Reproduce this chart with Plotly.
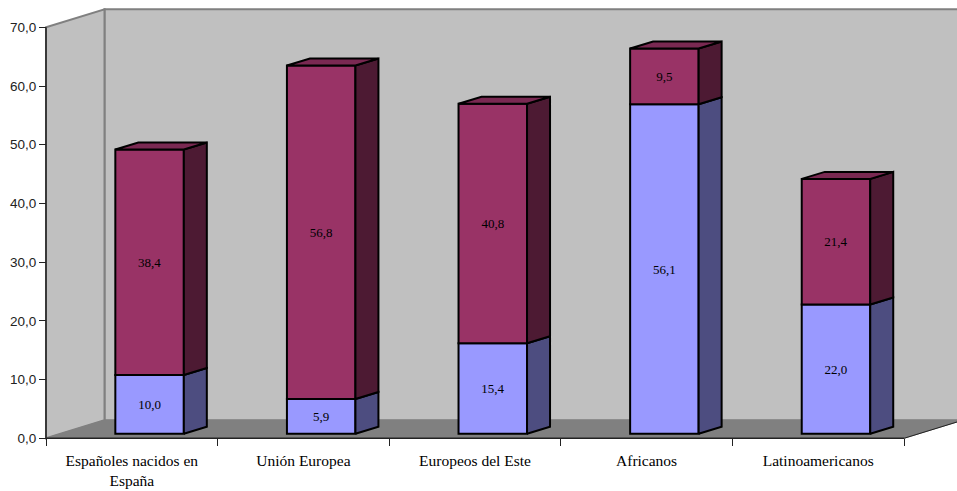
import plotly.graph_objects as go

categories = ["Españoles nacidos en<br>España", "Unión Europea", "Europeos del Este", "Africanos", "Latinoamericanos"]
lower_values = [10.0, 5.9, 15.4, 56.1, 22.0]
upper_values = [38.4, 56.8, 40.8, 9.5, 21.4]
value_ticks = [0, 10, 20, 30, 40, 50, 60, 70]

WIDTH, HEIGHT = 957, 491
LEFT, RIGHT = 46.0, 904.0      # pixel extent of the category axis
ZERO_Y, TOP_Y = 438.3, 27.3    # pixel rows of values 0 and 70
slot_px = (RIGHT - LEFT) / len(categories)
unit_px = (ZERO_Y - TOP_Y) / 70

# Oblique projection: the box recedes up and to the right.
wall_dx, wall_dy = 58.5 / slot_px, 18.0 / unit_px
bar_dx, bar_dy = 23.0 / slot_px, 7.0 / unit_px
bar_w = 68.5 / slot_px
bar_left = 0.404
bar_floor = 4.6 / unit_px

x_range = [-LEFT / slot_px, (WIDTH - LEFT) / slot_px]
y_range = [(ZERO_Y - HEIGHT) / unit_px, ZERO_Y / unit_px]
n = len(categories)

EDGE = "#000000"
WALL_EDGE = "#808080"
EDGE_WIDTH = 2


def polygon(xs, ys, color):
    return go.Scatter(
        x=xs + xs[:1], y=ys + ys[:1], mode="lines", fill="toself", fillcolor=color,
        line=dict(color=EDGE, width=EDGE_WIDTH), hoverinfo="skip", showlegend=False,
    )


def path(points):
    head, *rest = points
    return f"M{head[0]},{head[1]} " + " ".join(f"L{a},{b}" for a, b in rest) + " Z"


fig = go.Figure()

# Stacked front faces
centers = [i + bar_left + bar_w / 2 for i in range(n)]
series = [
    (lower_values, [bar_floor] * n, "#9999FF", "#4D4D80"),
    (upper_values, [bar_floor + v for v in lower_values], "#993366", "#4D1A33"),
]
for values, bases, front, side in series:
    fig.add_trace(go.Bar(
        x=centers, y=values, base=bases, width=bar_w,
        marker=dict(color=front, line=dict(color=EDGE, width=EDGE_WIDTH)),
        text=values, texttemplate="%{text:.1f}", textposition="inside",
        insidetextanchor="middle", textangle=0, constraintext="none",
        textfont=dict(family="Liberation Serif", size=13, color="#000000"),
        hoverinfo="skip", showlegend=False,
    ))

# Side faces of each stacked segment, then the cap on the top segment
for values, bases, front, side in series:
    for i in range(n):
        xr = i + bar_left + bar_w
        y0, y1 = bases[i], bases[i] + values[i]
        fig.add_trace(polygon(
            [xr, xr + bar_dx, xr + bar_dx, xr],
            [y0, y0 + bar_dy, y1 + bar_dy, y1],
            side,
        ))
for i in range(n):
    xl = i + bar_left
    y1 = bar_floor + lower_values[i] + upper_values[i]
    fig.add_trace(polygon(
        [xl, xl + bar_w, xl + bar_w + bar_dx, xl + bar_dx],
        [y1, y1, y1 + bar_dy, y1 + bar_dy],
        "#7A2952",
    ))

top = value_ticks[-1]
shapes = [
    # Back wall
    dict(type="path", path=path([(wall_dx, wall_dy), (n + wall_dx, wall_dy),
                                 (n + wall_dx, top + wall_dy), (wall_dx, top + wall_dy)]),
         fillcolor="#C0C0C0", line=dict(color=WALL_EDGE, width=2), layer="below"),
    # Side wall
    dict(type="path", path=path([(0, 0), (wall_dx, wall_dy), (wall_dx, top + wall_dy), (0, top)]),
         fillcolor="#C0C0C0", line=dict(color=WALL_EDGE, width=2), layer="below"),
    # Floor
    dict(type="path", path=path([(0, 0), (n, 0), (n + wall_dx, wall_dy), (wall_dx, wall_dy)]),
         fillcolor="#808080", line=dict(color="#808080", width=1), layer="below"),
    # Axis lines and the floor's right edge
    dict(type="line", x0=0, x1=0, y0=0, y1=top, line=dict(color="#222222", width=1.5), layer="below"),
    dict(type="line", x0=0, x1=n, y0=0, y1=0, line=dict(color="#222222", width=1.5), layer="below"),
    dict(type="line", x0=n, x1=n + wall_dx, y0=0, y1=wall_dy, line=dict(color="#222222", width=1), layer="below"),
]

fig.update_layout(
    width=WIDTH, height=HEIGHT, margin=dict(l=0, r=0, t=0, b=0),
    paper_bgcolor="#FFFFFF", plot_bgcolor="#FFFFFF",
    barmode="overlay", separators=",.", showlegend=False, shapes=shapes,
    xaxis=dict(
        range=x_range, domain=[0, 1], anchor="free", position=(HEIGHT - ZERO_Y) / HEIGHT,
        showgrid=False, zeroline=False, showline=False,
        tickmode="array", tickvals=[i + 0.5 for i in range(n)], ticktext=categories,
        ticks="", ticklabelstandoff=11,
        tickfont=dict(family="Liberation Serif", size=15.5, color="#000000"),
        minor=dict(tickmode="array", tickvals=list(range(n + 1)), ticks="outside",
                   ticklen=7, tickwidth=1, tickcolor="#222222", showgrid=False),
    ),
    yaxis=dict(
        range=y_range, domain=[0, 1], anchor="free", position=LEFT / WIDTH,
        showgrid=False, zeroline=False, showline=False,
        tickmode="array", tickvals=value_ticks, tickformat=".1f",
        ticks="outside", ticklen=7, tickwidth=1, tickcolor="#222222",
        tickfont=dict(family="Liberation Sans", size=13.5, color="#222222"),
    ),
)

fig.write_html("out.html", config=dict(displayModeBar=False))
